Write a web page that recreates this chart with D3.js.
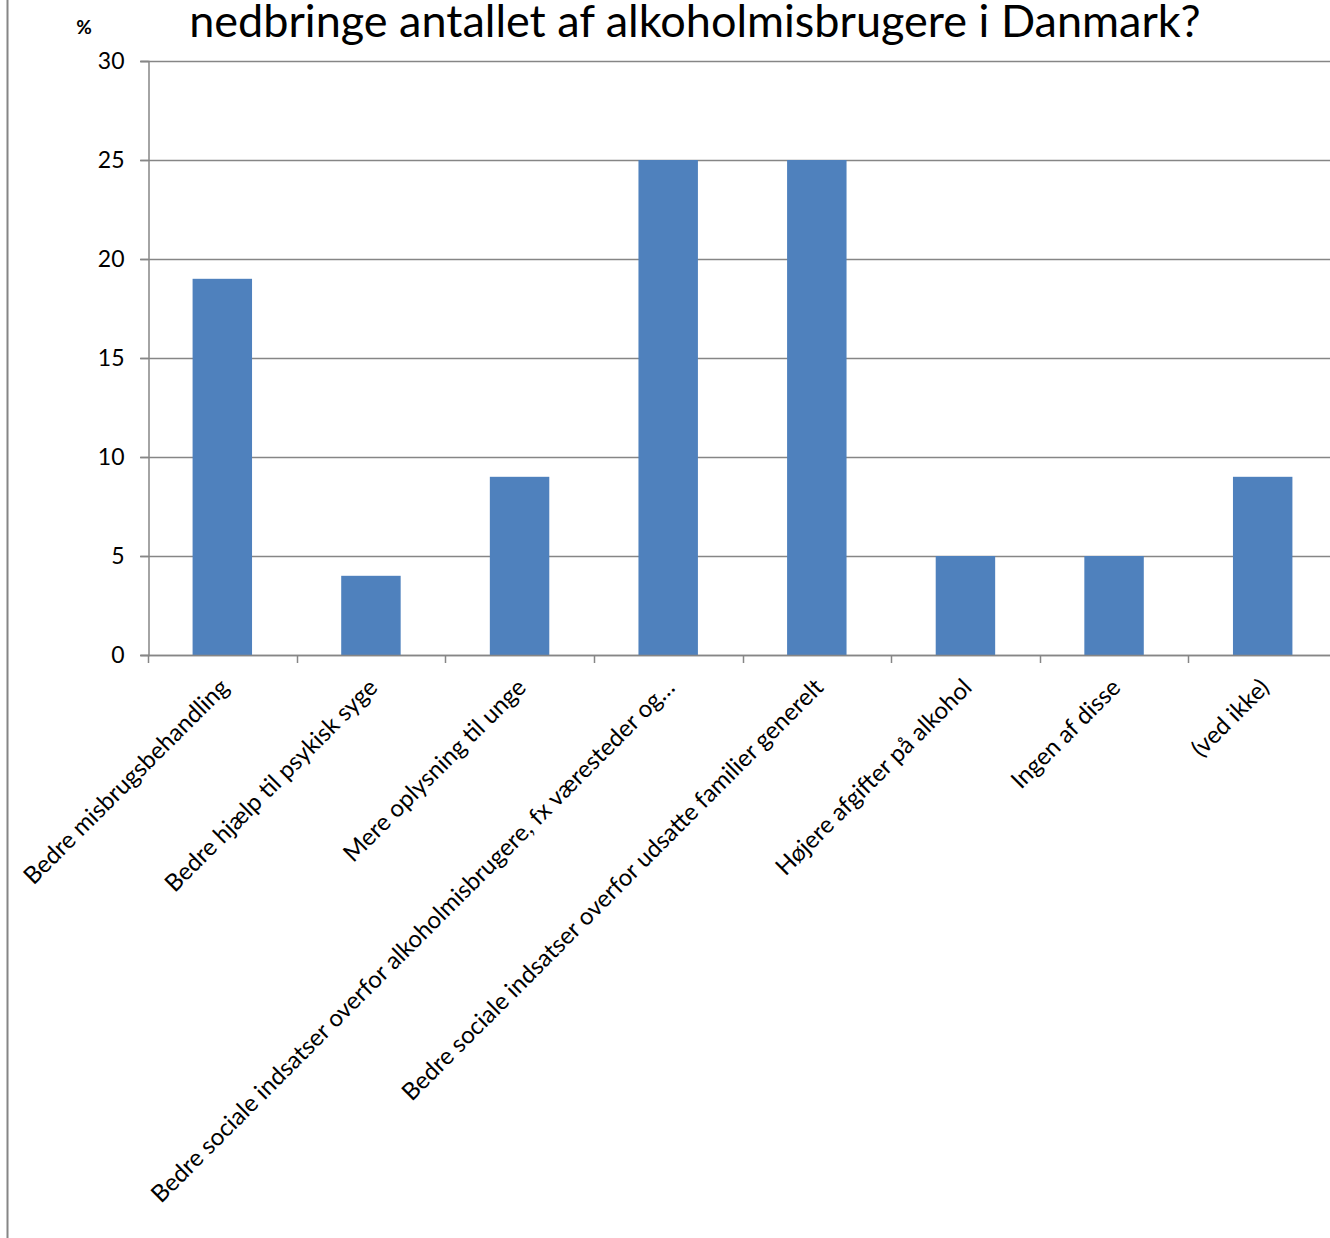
<!DOCTYPE html>
<html><head><meta charset="utf-8">
<script src="https://cdn.jsdelivr.net/npm/d3@7"></script>
<style>body{margin:0;background:#fff;}svg{display:block;}</style>
</head><body>
<script>
const categories = ["Bedre misbrugsbehandling","Bedre hjælp til psykisk syge","Mere oplysning til unge","Bedre sociale indsatser overfor alkoholmisbrugere, fx væresteder og…","Bedre sociale indsatser overfor udsatte familier generelt","Højere afgifter på alkohol","Ingen af disse","(ved ikke)"];
const values = [19,4,9,25,25,5,5,9];
const yTicks = [0,5,10,15,20,25,30];
const titleText = "nedbringe antallet af alkoholmisbrugere i Danmark?";
const unitLabel = "%";

(function(){
const W=1330,H=1238;
const svg=d3.select("body").append("svg").attr("width",W).attr("height",H);
const font="Lato, 'Open Sans', sans-serif";
const pL=148, pR=1337, pT=61, pB=655;
const x=d3.scaleBand().domain(categories).range([pL,pR]).paddingInner(0.6).paddingOuter(0.3);
const y=d3.scaleLinear().domain([0,30]).range([pB,pT]);

svg.append("line").attr("x1",7.5).attr("x2",7.5).attr("y1",0).attr("y2",H).attr("stroke","#868686").attr("stroke-width",2);

svg.append("g").selectAll("line").data(yTicks).join("line")
 .attr("x1",140).attr("x2",W).attr("y1",d=>Math.round(y(d))+0.5).attr("y2",d=>Math.round(y(d))+0.5)
 .attr("stroke","#868686").attr("stroke-width",1.5);

const ya=svg.append("g").attr("transform",`translate(${pL+0.5},0)`)
 .call(d3.axisLeft(y).tickValues(yTicks).tickSize(8).tickPadding(16));
ya.select(".domain").attr("stroke","#868686").attr("stroke-width",1.5);
ya.selectAll(".tick line").attr("stroke","#868686").attr("stroke-width",1.5);
ya.selectAll("text").attr("font-family",font).attr("font-size",23).attr("fill","#000");

svg.append("g").selectAll("rect").data(values).join("rect")
 .attr("x",(d,i)=>x(categories[i])).attr("width",x.bandwidth())
 .attr("y",d=>y(d)).attr("height",d=>pB-y(d)).attr("fill","#4F81BD");

const xb=d3.range(categories.length+1).map(i=>pL+i*(pR-pL)/categories.length);
svg.append("line").attr("x1",pL).attr("x2",W).attr("y1",pB+0.5).attr("y2",pB+0.5).attr("stroke","#868686").attr("stroke-width",1.5);
svg.append("g").selectAll("line").data(xb).join("line")
 .attr("x1",d=>Math.round(d)+0.5).attr("x2",d=>Math.round(d)+0.5).attr("y1",pB).attr("y2",pB+8)
 .attr("stroke","#868686").attr("stroke-width",1.5);

svg.append("g").selectAll("text").data(categories).join("text")
 .attr("transform",d=>`translate(${x(d)+x.bandwidth()/2+2},${pB+28}) rotate(-45)`)
 .attr("text-anchor","end").attr("dy","0.35em")
 .attr("font-family",font).attr("font-size",24).attr("fill","#000").text(d=>d);

svg.append("text").attr("x",695).attr("y",37).attr("text-anchor","middle")
 .attr("font-family",font).attr("font-size",45).attr("fill","#000").text(titleText);
svg.append("text").attr("x",84).attr("y",34).attr("text-anchor","middle")
 .attr("font-family",font).attr("font-size",19).attr("font-weight","bold").attr("fill","#000").text(unitLabel);
})();
</script>
</body></html>
